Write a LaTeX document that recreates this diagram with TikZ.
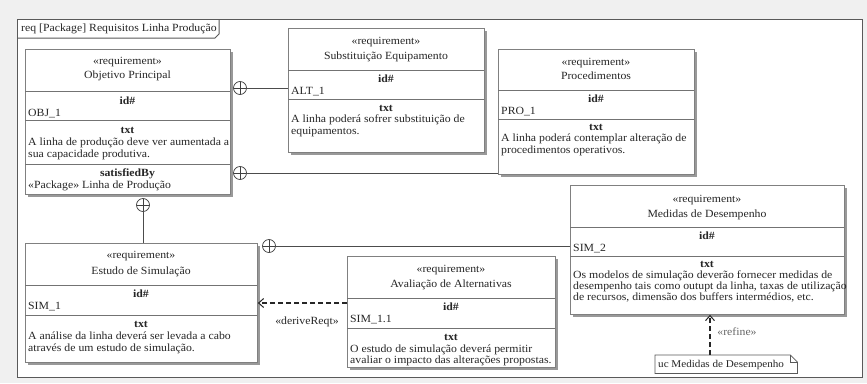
\documentclass[tikz,border=0pt]{standalone}
\usepackage{fontspec}
\setmainfont{Liberation Serif}[FakeStretch=1.07]
\usetikzlibrary{shadows,arrows.meta}
\tikzset{
  reqbox/.style={draw=black!50, line width=0.9pt, fill=white, anchor=north west, inner sep=0pt,
    drop shadow={shadow xshift=3pt, shadow yshift=-3pt, fill=black!40, opacity=1}},
  sepline/.style={draw=black!55, line width=0.8pt},
  txtfont/.style={font=\fontsize{11}{12}\selectfont, text=black!85, inner sep=0pt, text height=7.5pt, text depth=2.5pt},
  ctr/.style={txtfont, anchor=center},
  lft/.style={txtfont, anchor=west},
  bctr/.style={ctr, font=\fontsize{11}{12}\selectfont\bfseries},
  contain/.style={circle, draw=black!75, line width=0.7pt, fill=white, minimum size=13pt, inner sep=0pt,
    path picture={\draw[black!75, line width=0.7pt] (path picture bounding box.north) -- (path picture bounding box.south)
      (path picture bounding box.west) -- (path picture bounding box.east);}},
  conn/.style={draw=black!70, line width=0.8pt},
  depline/.style={draw=black!85, line width=1.3pt, dash pattern=on 5pt off 3pt},
  opentip/.style={-{Straight Barb[length=5pt, width=9pt, line width=1pt]}},
  frameline/.style={draw=black!65, line width=1pt},
  noteshape/.style={anchor=north west, minimum width=142pt, minimum height=18pt, inner sep=0pt},
}
\begin{document}
\begin{tikzpicture}[x=1pt,y=-1pt]
\useasboundingbox (0,0) rectangle (867,383);
\fill[black!6] (0,0) rectangle (867,383);
\filldraw[frameline, fill=white] (17,19) rectangle (862,377);
\draw[frameline] (17,38) -- (215,38) -- (219,34) -- (219,19);
\node[lft] (title) at (21,29) {req [Package] Requisitos Linha Produção};

% Objetivo Principal
\node[reqbox, minimum width=205pt, minimum height=145pt] (obj) at (25,49) {};
\draw[sepline] (25,91) -- (230,91);
\draw[sepline] (25,120) -- (230,120);
\draw[sepline] (25,164) -- (230,164);
\node[ctr] (obj1) at (127.5,62) {«requirement»};
\node[ctr] (obj2) at (127.5,76) {Objetivo Principal};
\node[bctr] (obj3) at (127.5,102) {id\#};
\node[lft] (obj4) at (28,114) {OBJ\_1};
\node[bctr] (obj5) at (127.5,131) {txt};
\node[lft] (obj6) at (28,143) {A linha de produção deve ver aumentada a};
\node[lft] (obj7) at (28,155) {sua capacidade produtiva.};
\node[bctr] (obj8) at (127.5,174) {satisfiedBy};
\node[lft] (obj9) at (28,186) {«Package» Linha de Produção};

% Substituicao Equipamento
\node[reqbox, minimum width=196pt, minimum height=124pt] (sub) at (288,28) {};
\draw[sepline] (288,70) -- (484,70);
\draw[sepline] (288,99) -- (484,99);
\node[ctr] (sub1) at (386,42) {«requirement»};
\node[ctr] (sub2) at (386,57) {Substituição Equipamento};
\node[bctr] (sub3) at (386,80) {id\#};
\node[lft] (sub4) at (291,92) {ALT\_1};
\node[bctr] (sub5) at (386,109) {txt};
\node[lft] (sub6) at (291,120) {A linha poderá sofrer substituição de};
\node[lft] (sub7) at (291,132) {equipamentos.};

% Procedimentos
\node[reqbox, minimum width=196pt, minimum height=125pt] (pro) at (498,49) {};
\draw[sepline] (498,90) -- (694,90);
\draw[sepline] (498,119) -- (694,119);
\node[ctr] (pro1) at (596,63) {«requirement»};
\node[ctr] (pro2) at (596,77) {Procedimentos};
\node[bctr] (pro3) at (596,100) {id\#};
\node[lft] (pro4) at (501,112) {PRO\_1};
\node[bctr] (pro5) at (596,128) {txt};
\node[lft] (pro6) at (501,139) {A linha poderá contemplar alteração de};
\node[lft] (pro7) at (501,151) {procedimentos operativos.};

% Medidas de Desempenho
\node[reqbox, minimum width=274pt, minimum height=129pt] (med) at (570,185) {};
\draw[sepline] (570,227) -- (844,227);
\draw[sepline] (570,256) -- (844,256);
\node[ctr] (med1) at (707,200) {«requirement»};
\node[ctr] (med2) at (707,215) {Medidas de Desempenho};
\node[bctr] (med3) at (707,237) {id\#};
\node[lft] (med4) at (573,249) {SIM\_2};
\node[bctr] (med5) at (707,265) {txt};
\node[lft] (med6) at (573,276) {Os modelos de simulação deverão fornecer medidas de};
\node[lft] (med7) at (573,287) {desempenho tais como outupt da linha, taxas de utilização};
\node[lft] (med8) at (573,298) {de recursos, dimensão dos buffers intermédios, etc.};

% Estudo de Simulacao
\node[reqbox, minimum width=232pt, minimum height=119pt] (est) at (25,243) {};
\draw[sepline] (25,285) -- (257,285);
\draw[sepline] (25,315) -- (257,315);
\node[ctr] (est1) at (141,256) {«requirement»};
\node[ctr] (est2) at (141,272) {Estudo de Simulação};
\node[bctr] (est3) at (141,295) {id\#};
\node[lft] (est4) at (28,307) {SIM\_1};
\node[bctr] (est5) at (141,325) {txt};
\node[lft] (est6) at (28,337) {A análise da linha deverá ser levada a cabo};
\node[lft] (est7) at (28,349) {através de um estudo de simulação.};

% Avaliacao de Alternativas
\node[reqbox, minimum width=208pt, minimum height=111pt] (ava) at (347,256) {};
\draw[sepline] (347,298) -- (555,298);
\draw[sepline] (347,328) -- (555,328);
\node[ctr] (ava1) at (451,270) {«requirement»};
\node[ctr] (ava2) at (451,285) {Avaliação de Alternativas};
\node[bctr] (ava3) at (451,308) {id\#};
\node[lft] (ava4) at (350,320) {SIM\_1.1};
\node[bctr] (ava5) at (451,338) {txt};
\node[lft] (ava6) at (350,350) {O estudo de simulação deverá permitir};
\node[lft] (ava7) at (350,361) {avaliar o impacto das alterações propostas.};

% note
\node[noteshape] (note) at (655,355) {};
\draw[frameline, line width=0.8pt, fill=white] (note.south west) -- (note.north west) -- ([xshift=-7pt]note.north east)
  -- ([yshift=-7pt]note.north east) -- (note.south east) -- cycle;
\draw[frameline, line width=0.6pt] ([xshift=-7pt]note.north east) -- ([xshift=-7pt,yshift=-7pt]note.north east) -- ([yshift=-7pt]note.north east);
\node[lft, font=\fontsize{10.4}{12}\selectfont] (notetext) at (658,365) {uc Medidas de Desempenho};

% containment connectors
\node[contain] (c1) at (240,88) {};
\draw[conn] (c1.east) -- (c1.east -| sub.west);
\node[contain] (c2) at (240,173) {};
\draw[conn] (c2.east) -- (c2.east -| pro.west);
\node[contain] (c3) at (143,205) {};
\draw[conn] (c3.south) -- (c3.south |- est.north);
\node[contain] (c4) at (269,246) {};
\draw[conn] (c4.east) -- (c4.east -| med.west);

% deriveReqt
\coordinate (d1) at (347,303);
\draw[depline, opentip] (d1) -- (d1 -| est.east);
\node[ctr] (dlabel) at (307,322) {«deriveReqt»};

% refine
\coordinate (r1) at (710,355);
\draw[depline, line width=1.1pt, opentip] (r1) -- (r1 |- med.south);
\node[ctr, text=black!60] (rlabel) at (737,333) {«refine»};
\end{tikzpicture}
\end{document}
